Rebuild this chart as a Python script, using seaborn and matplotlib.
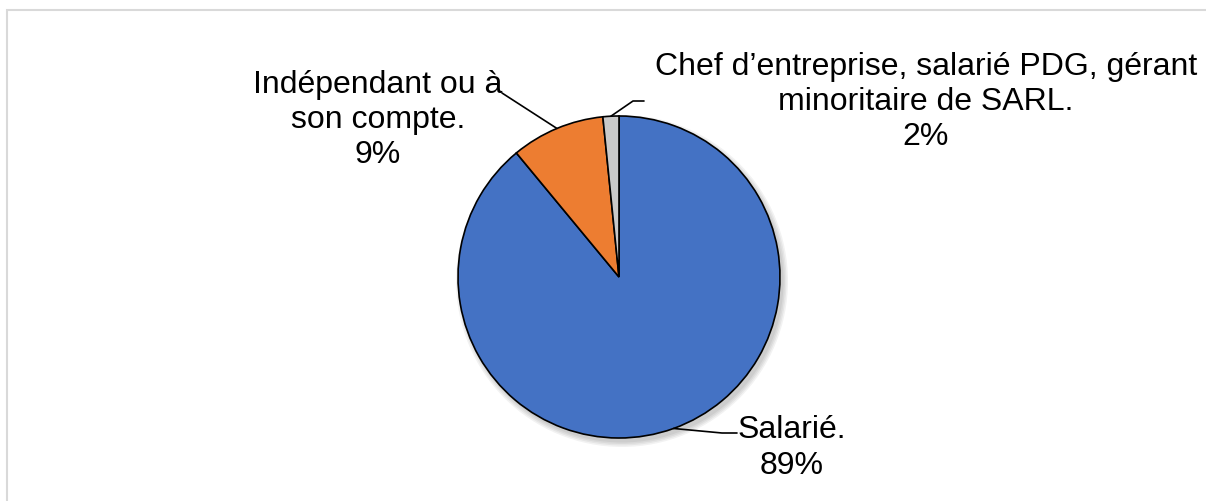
import numpy as np
import matplotlib
matplotlib.use("Agg")
import matplotlib.pyplot as plt
import matplotlib.patches as mpatches
import seaborn as sns

# ---- data ----
categories = ["Salarié.", "Indépendant ou à\nson compte.",
              "Chef d’entreprise, salarié PDG, gérant\nminoritaire de SARL."]
values = [89.0, 9.4, 1.6]
pct_labels = ["89%", "9%", "2%"]
colors = ["#4472C4", "#ED7D31", "#C9C9C9"]

sns.set_theme(style="white")
plt.rcParams['font.family'] = ['Liberation Sans', 'DejaVu Sans']

W, H = 1206, 501
fig = plt.figure(figsize=(W / 100, H / 100), dpi=100)
ax = fig.add_axes([0, 0, 1, 1])

cx, cy, R = 619, 224, 161

# soft shadow
for i, a in enumerate([0.05, 0.05, 0.05, 0.05]):
    ax.add_patch(mpatches.Circle((cx + 3, cy - 4), R + 5 - i * 1.5,
                                 color="black", alpha=a, lw=0, zorder=0))

wedges, _ = ax.pie(values, colors=colors, startangle=90, counterclock=False,
                   center=(cx, cy), radius=R, frame=True,
                   wedgeprops=dict(edgecolor="black", linewidth=1.2))
for w in wedges:
    w.set_zorder(2)

ax.set_xlim(0, W)
ax.set_ylim(0, H)
ax.set_aspect("equal")
ax.axis("off")

def edge_point(w):
    ang = np.deg2rad((w.theta1 + w.theta2) / 2)
    return cx + R * np.cos(ang), cy + R * np.sin(ang)

fs = 23
# label positions (layout)
label_pos = [(792, 53), (378, 381), (926, 399)]
leaders = [[(722, 68), (737, 68)],
           [(502, 408)],
           [(633, 400), (644, 400)]]

for w, cat, pct, pos, pts in zip(wedges, categories, pct_labels, label_pos, leaders):
    ex, ey = edge_point(w)
    xs = [ex] + [p[0] for p in pts]
    ys = [ey] + [p[1] for p in pts]
    ax.plot(xs, ys, color="black", lw=1.2, zorder=3)
    ax.text(pos[0], pos[1], f"{cat}\n{pct}", ha="center", va="center",
            multialignment="center", fontsize=fs, color="black",
            linespacing=1.22, zorder=4)

# chart border
fig.add_artist(mpatches.Rectangle((7 / W, -0.1), 1.2, (H - 10) / H + 0.1,
                                  transform=fig.transFigure, fill=False,
                                  edgecolor="#D9D9D9", lw=1.5))

fig.savefig("out.png", dpi=100, facecolor="white")
